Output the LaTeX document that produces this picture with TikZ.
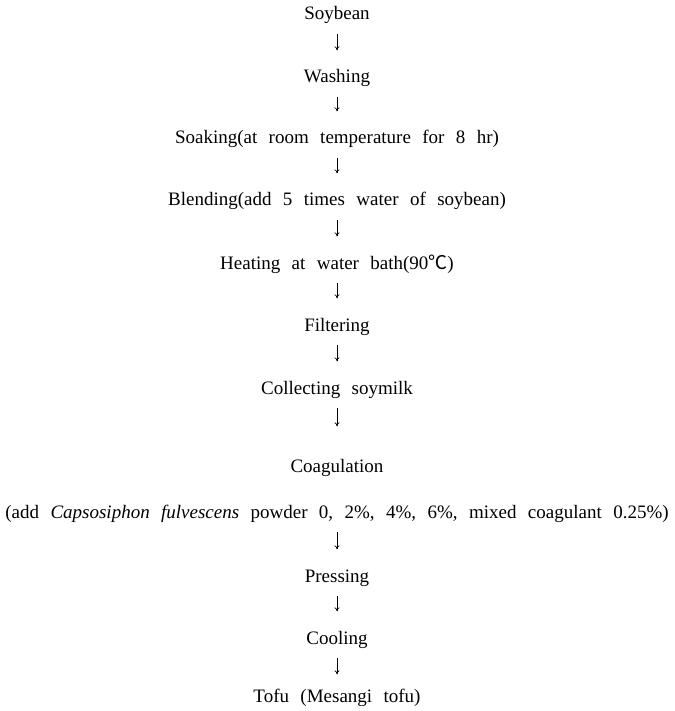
\documentclass[tikz,border=0pt]{standalone}
\usepackage{fontspec}
\setmainfont{Liberation Serif}[WordSpace=2.4]
\newfontfamily\cjk{Noto Sans CJK SC}
\usetikzlibrary{arrows.meta}
\begin{document}
\begin{tikzpicture}[x=1pt,y=-1pt,
  stepnode/.style={anchor=base,inner sep=0pt,text height=13.5pt,text depth=4pt,font=\fontsize{19}{22}\selectfont},
  arr/.style={-{To[length=4pt,width=5pt]},line width=0.7pt,shorten <=10pt,shorten >=19pt}]
\useasboundingbox (0,0) rectangle (674,711);
\node[stepnode] (n1) at (337,20) {Soybean};
\node[stepnode] (n2) at (337,83) {Washing};
\node[stepnode] (n3) at (337,144) {Soaking(at room temperature for 8 hr)};
\node[stepnode] (n4) at (337,206) {Blending(add 5 times water of soybean)};
\node[stepnode] (n5) at (337,269) {Heating at water bath(90{\cjk ℃})};
\node[stepnode] (n6) at (337,331) {Filtering};
\node[stepnode] (n7) at (337,394) {Collecting soymilk};
\node[stepnode] (n8) at (337,472) {Coagulation};
\node[stepnode] (n8b) at (337,518) {(add \textit{Capsosiphon fulvescens} powder 0, 2\%, 4\%, 6\%, mixed coagulant 0.25\%)};
\node[stepnode] (n9) at (337,582) {Pressing};
\node[stepnode] (n10) at (337,644) {Cooling};
\node[stepnode] (n11) at (337,702) {Tofu (Mesangi tofu)};
\draw[arr] (n1.south) -- (n2.north);
\draw[arr] (n2.south) -- (n3.north);
\draw[arr] (n3.south) -- (n4.north);
\draw[arr] (n4.south) -- (n5.north);
\draw[arr] (n5.south) -- (n6.north);
\draw[arr] (n6.south) -- (n7.north);
\draw[arr,shorten >=32pt] (n7.south) -- (n8.north);
\draw[arr] (n8b.south) -- (n9.north);
\draw[arr] (n9.south) -- (n10.north);
\draw[arr,shorten >=14pt] (n10.south) -- (n11.north);
\end{tikzpicture}
\end{document}
